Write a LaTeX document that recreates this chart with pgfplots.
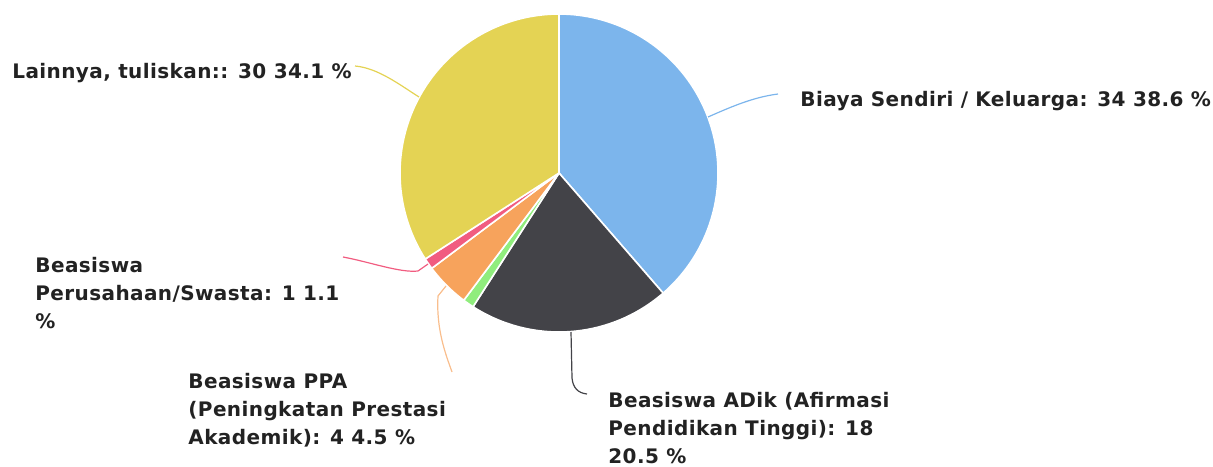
\documentclass[border=0pt]{standalone}
\usepackage{pgfplots}
\pgfplotsset{compat=1.18}
\usepackage{fontspec}
\setmainfont{DejaVu Sans}[BoldFont={DejaVu Sans Bold}, LetterSpace=2]
\definecolor{cBlue}{HTML}{7CB5EC}
\definecolor{cDark}{HTML}{434348}
\definecolor{cGreen}{HTML}{90ED7D}
\definecolor{cOrange}{HTML}{F7A35C}
\definecolor{cPink}{HTML}{F15C80}
\definecolor{cYellow}{HTML}{E4D354}
\definecolor{cText}{HTML}{222222}
% cumulative counts: Biaya 34, ADik 18, (other) 1, PPA 4, Perusahaan 1, Lainnya 30; total 88
\newcommand\slice[3]{%
  \addplot[fill=#3, draw=white, line width=0.8pt, line join=round, domain=#1:#2, samples=80, variable=\t]
    ({559+159*sin(\t*360/88)}, {173-159*cos(\t*360/88)}) -- (559,173) -- cycle;
}
\newcommand\lab[1]{\fontsize{10}{12}\selectfont\bfseries #1}
\begin{document}
\begin{tikzpicture}
\begin{axis}[
  x=0.5pt, y=0.5pt, y dir=reverse,
  xmin=0, xmax=1213, ymin=0, ymax=466,
  hide axis, clip=false, scale only axis,
]
\path (0,0) rectangle (1213,466);
\slice{0}{34}{cBlue}
\slice{34}{52}{cDark}
\slice{52}{53}{cGreen}
\slice{53}{57}{cOrange}
\slice{57}{58}{cPink}
\slice{58}{88}{cYellow}
% leader lines
\draw[cBlue, line width=0.6pt] (708,117) .. controls (735,105) and (755,97) .. (778,94);
\draw[cYellow, line width=0.6pt] (419,97) .. controls (400,85) and (378,68) .. (355,66);
\draw[cPink, line width=0.6pt] (428,264) -- (418,271) .. controls (400,273) and (370,262) .. (343,257);
\draw[cOrange!70, line width=0.6pt] (446,286) -- (438,296) .. controls (436,330) and (446,355) .. (452,372);
\draw[cDark, line width=0.6pt] (571,332) -- (572,378) .. controls (573,388) and (578,393) .. (587,394);
% labels
\begin{scope}[every node/.style={inner sep=0pt, text=cText, anchor=base west}]
\node at (12,78) {\lab{Lainnya, tuliskan:: 30 34.1 \%}};
\node at (800,106) {\lab{Biaya Sendiri / Keluarga: 34 38.6 \%}};
\node at (35,272) {\lab{Beasiswa}};
\node at (35,300) {\lab{Perusahaan/Swasta: 1 1.1}};
\node at (35,328) {\lab{\%}};
\node at (188,388) {\lab{Beasiswa PPA}};
\node at (188,416) {\lab{(Peningkatan Prestasi}};
\node at (188,444) {\lab{Akademik): 4 4.5 \%}};
\node at (608,407) {\lab{Beasiswa ADik (Afirmasi}};
\node at (608,435) {\lab{Pendidikan Tinggi): 18}};
\node at (608,463) {\lab{20.5 \%}};
\end{scope}
\end{axis}
\end{tikzpicture}
\end{document}
